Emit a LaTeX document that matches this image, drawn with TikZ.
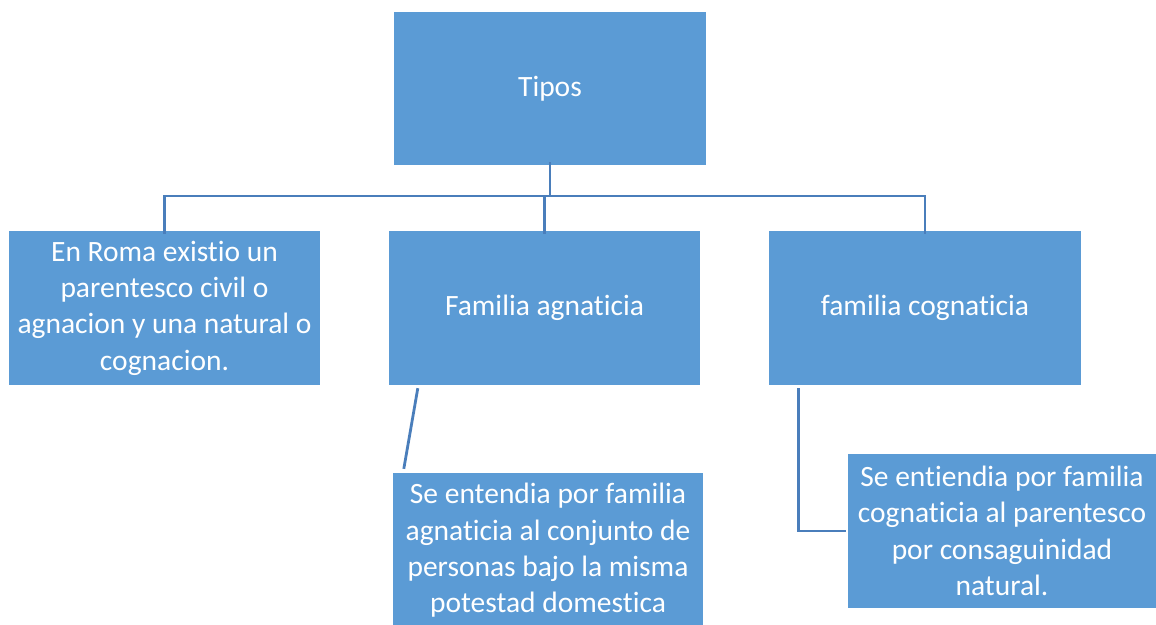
\documentclass[tikz,border=0pt]{standalone}
\usepackage{fontspec}
\setmainfont{Carlito}[Ligatures={NoCommon}]
\usetikzlibrary{calc}
\definecolor{boxblue}{HTML}{5B9BD5}
\definecolor{lineblue}{HTML}{4A7EBB}
\begin{document}
\begin{tikzpicture}[x=1pt,y=-1pt,
  bx/.style={draw=none,fill=boxblue,text=white,align=center,inner sep=0pt,
    font=\fontsize{29.5}{36.3}\selectfont},
  conn/.style={draw=lineblue,line width=2.8pt}]
\useasboundingbox (0,0) rectangle (1156,624);
\fill[white] (0,0) rectangle (1156,624);
\node[bx,minimum width=312pt,minimum height=153pt] (tipos) at (550,88.5) {Tipos};
\node[bx,minimum width=311pt,minimum height=154pt] (left) at (164.5,308) {En Roma existio un\\parentesco civil o\\agnacion y una natural o\\cognacion.};
\node[bx,minimum width=311pt,minimum height=154pt] (mid) at (544.5,308) {Familia agnaticia};
\node[bx,minimum width=312pt,minimum height=154pt] (right) at (925,308) {familia cognaticia};
\node[bx,minimum width=310pt,minimum height=155pt] (bm) at (548,550.5) {Se entendia por familia\\agnaticia al conjunto de\\personas bajo la misma\\potestad domestica};
\node[bx,minimum width=308pt,minimum height=154pt] (br) at (1002,531) {Se entiendia por familia\\cognaticia al parentesco\\por consaguinidad\\natural.};
\coordinate (bus) at (550,196);
\draw[conn] ([yshift=3pt]tipos.south) -- (tipos.south |- bus);
\draw[conn] ([yshift=-3pt]left.north) -- (left.north |- bus) -- (right.north |- bus) -- ([yshift=-3pt]right.north);
\draw[conn] ([yshift=-3pt]mid.north) -- (mid.north |- bus);
\draw[conn] ($(mid.south west)+(29,3)$) -- ($(bm.north west)+(11,-4)$);
\draw[conn] ($(right.south west)+(30,3)$) |- ([xshift=-2pt]br.west);
\end{tikzpicture}
\end{document}
